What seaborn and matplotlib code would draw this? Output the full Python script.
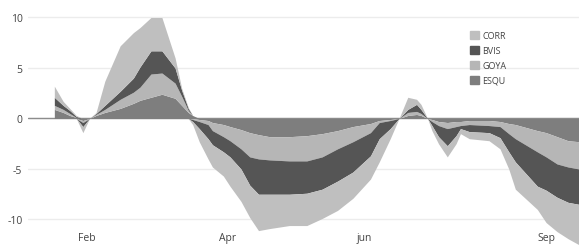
import matplotlib
matplotlib.use("Agg")
import matplotlib.pyplot as plt
from matplotlib.patches import Patch
import numpy as np
import seaborn as sns

# days from start of the series
days = [0, 4, 7, 10, 13, 16, 19, 23, 30, 36, 39, 44, 49, 55, 58, 61, 63,
        66, 70, 72, 77, 80, 85, 89, 93, 98, 107, 115, 122, 129, 136, 144,
        148, 153, 157, 161, 165, 167, 170, 172, 175, 179, 183, 185, 189,
        198, 203, 207, 210, 220, 224, 229, 234, 239]

esqu = [0.9, 0.6, 0.3, 0.1, -0.2, 0.0, 0.3, 0.6, 1.0, 1.5, 1.8, 2.1, 2.4, 2.0, 1.3, 0.6, 0.3,
        -0.1, -0.2, -0.4, -0.6, -0.8, -1.1, -1.4, -1.6, -1.8, -1.8, -1.7, -1.5, -1.2, -0.8, -0.5,
        -0.2, -0.1, 0.0, 0.3, 0.4, 0.3, 0.0, -0.1, -0.3, -0.4, -0.3, -0.3, -0.2,
        -0.2, -0.3, -0.5, -0.6, -1.2, -1.4, -1.8, -2.2, -2.3]
goya = [0.4, 0.3, 0.2, 0.0, -0.2, 0.0, 0.1, 0.3, 0.9, 1.1, 1.3, 2.3, 2.1, 1.5, 0.9, 0.2, -0.1,
        -0.2, -0.4, -0.8, -1.2, -1.4, -1.9, -2.4, -2.4, -2.3, -2.4, -2.5, -2.3, -1.8, -1.5, -0.9,
        -0.2, -0.1, 0.0, 0.3, 0.3, 0.2, 0.0, -0.2, -0.4, -0.6, -0.5, -0.4, -0.4,
        -0.5, -0.5, -1.0, -1.4, -2.1, -2.4, -2.7, -2.6, -2.7]
bvis = [0.8, 0.4, 0.3, 0.1, -0.4, 0.0, 0.1, 0.4, 0.8, 1.4, 2.0, 2.3, 2.2, 1.5, 0.6, 0.2, -0.2,
        -0.7, -1.4, -1.4, -1.5, -1.6, -2.0, -2.8, -3.5, -3.4, -3.3, -3.2, -3.2, -3.2, -3.0, -2.3,
        -1.6, -0.8, 0.0, 0.3, 0.7, 0.4, 0.0, -0.4, -1.1, -1.7, -0.9, -0.3, -0.7,
        -0.7, -1.1, -1.8, -2.3, -3.4, -3.3, -3.3, -3.5, -3.5]
corr = [1.1, 0.4, 0.2, 0.1, -0.6, 0.0, 0.1, 2.4, 4.5, 4.5, 3.9, 3.3, 3.3, 1.0, 0.2, 0.1, -0.3,
        -1.3, -2.0, -2.2, -2.4, -2.9, -3.2, -3.2, -3.6, -3.4, -3.1, -3.2, -2.9, -2.9, -2.6, -2.3,
        -2.3, -1.0, 0.0, 1.2, 0.5, 0.5, 0.0, -0.5, -0.7, -1.1, -0.8, -0.5, -0.7,
        -0.8, -1.1, -1.7, -2.7, -2.3, -3.2, -3.4, -3.6, -4.0]

series = ["ESQU", "GOYA", "BVIS", "CORR"]
colors = ["#7e7e7e", "#b6b6b6", "#555555", "#bfbfbf"]

tick_days = [15, 79, 141, 224]
tick_labels = ["Feb", "Apr", "jun", "Sep"]
y_ticks = [-10, -5, 0, 5, 10]

sns.set_theme(style="whitegrid")
plt.rcParams["font.family"] = ["Open Sans", "DejaVu Sans"]
plt.rcParams["axes.unicode_minus"] = False

fig = plt.figure(figsize=(5.79, 2.51), dpi=100)
ax = fig.add_axes([28 / 579, 0, 1 - 28 / 579, 1])

vals = np.array([esqu, goya, bvis, corr])
pos = np.vstack([np.zeros(len(days)), np.clip(vals, 0, None).cumsum(axis=0)])
neg = np.vstack([np.zeros(len(days)), np.clip(vals, None, 0).cumsum(axis=0)])

ax.axhline(0, color="#8c8c8c", lw=1, zorder=1)
for i, (name, c) in enumerate(zip(series, colors)):
    ax.fill_between(days, pos[i], pos[i + 1], color=c, lw=0, zorder=2)
    ax.fill_between(days, neg[i], neg[i + 1], color=c, lw=0, zorder=2)

ax.set_xlim(-12, 239)
ax.set_ylim(-13.02, 11.83)
ax.set_yticks(y_ticks)
ax.set_yticklabels([str(v) for v in y_ticks])
ax.set_xticks(tick_days)
ax.set_xticklabels(tick_labels)
ax.grid(axis="x", visible=False)
ax.grid(axis="y", color="#ececec", lw=1)
for s in ax.spines.values():
    s.set_visible(False)
ax.tick_params(axis="y", length=0, pad=4, labelsize=7.5, labelcolor="#444444")
ax.tick_params(axis="x", length=0, pad=-13, labelsize=7.5, labelcolor="#444444")

handles = [Patch(color=c) for c in colors[::-1]]
fig.legend(handles, series[::-1], loc="upper left",
           bbox_to_anchor=(465 / 579, 1 - 27 / 251), frameon=False,
           fontsize=6.5, handlelength=1.0, handleheight=1.0,
           handletextpad=0.4, labelspacing=0.65, borderpad=0,
           labelcolor="#444444")

fig.savefig("out.png", dpi=100)
